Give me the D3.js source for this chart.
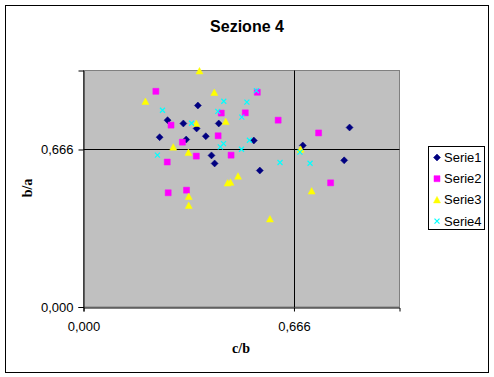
<!DOCTYPE html>
<html>
<head>
<meta charset="utf-8">
<script src="https://cdn.jsdelivr.net/npm/d3@7"></script>
<style>
  body { margin: 0; background: #fff; }
</style>
</head>
<body>
<div id="chart"></div>
<script>
(function(){

  var width = 494;
  var height = 377;

  // values: [c/b, b/a]
  var serie1 = [
    [0.362, 0.852], [0.266, 0.790], [0.316, 0.776], [0.428, 0.776], [0.358, 0.755],
    [0.241, 0.718], [0.325, 0.708], [0.387, 0.722], [0.539, 0.704], [0.405, 0.641],
    [0.415, 0.607], [0.558, 0.577], [0.694, 0.683], [0.842, 0.759], [0.825, 0.620]
  ];
  var serie2 = [
    [0.229, 0.912], [0.550, 0.908], [0.436, 0.820], [0.512, 0.821], [0.616, 0.790],
    [0.277, 0.769], [0.426, 0.724], [0.313, 0.697], [0.357, 0.638], [0.467, 0.642],
    [0.265, 0.613], [0.744, 0.736], [0.326, 0.494], [0.268, 0.483], [0.782, 0.525]
  ];
  var serie3 = [
    [0.367, 0.998], [0.414, 0.907], [0.196, 0.869], [0.357, 0.776], [0.450, 0.784],
    [0.284, 0.676], [0.332, 0.653], [0.687, 0.667], [0.489, 0.553], [0.456, 0.524],
    [0.465, 0.527], [0.333, 0.467], [0.333, 0.429], [0.722, 0.490], [0.590, 0.372]
  ];
  var serie4 = [
    [0.250, 0.832], [0.444, 0.870], [0.517, 0.866], [0.547, 0.915], [0.425, 0.827],
    [0.501, 0.803], [0.342, 0.777], [0.525, 0.705], [0.443, 0.691], [0.433, 0.677],
    [0.500, 0.667], [0.234, 0.642], [0.622, 0.611], [0.685, 0.655], [0.717, 0.608]
  ];

  var seriesNames = ['Serie1', 'Serie2', 'Serie3', 'Serie4'];
  var seriesColors = ['#000080', '#FF00FF', '#FFFF00', '#00FFFF'];
  var tickValues = [0, 0.666];

  var allSeries = [serie1, serie2, serie3, serie4];

  var sans = 'Arial, "Liberation Sans", sans-serif';
  var serif = '"Times New Roman", "Liberation Serif", serif';

  // marker shapes (Excel style)
  var markerPaths = [
    'M0,-3.5L3.5,0L0,3.5L-3.5,0Z',
    'M-3,-3L3,-3L3,3L-3,3Z',
    'M0,-3.5L3.5,3L-3.5,3Z',
    'M-2.5,-2.5L2.5,2.5M2.5,-2.5L-2.5,2.5'
  ];

  var plot = { left: 83.5, top: 70.5, right: 399.5, bottom: 307 };

  var x = d3.scaleLinear().domain([0, 1]).range([plot.left, plot.right]);
  var y = d3.scaleLinear().domain([0, 1]).range([plot.bottom, plot.top]);
  var fmt = function(d){ return d3.format('.3f')(d).replace('.', ','); };

  var svg = d3.select('#chart')
    .append('svg')
    .attr('width', width)
    .attr('height', height);

  // chart border
  svg.append('rect')
    .attr('x', 5.5).attr('y', 5.5)
    .attr('width', 483).attr('height', 367)
    .attr('fill', '#fff')
    .attr('stroke', '#000');

  // title
  svg.append('text')
    .attr('x', 247).attr('y', 32)
    .attr('text-anchor', 'middle')
    .style('font-family', sans)
    .style('font-size', '16px')
    .style('font-weight', 'bold')
    .text('Sezione 4');

  // plot area
  svg.append('rect')
    .attr('x', x(0)).attr('y', y(1))
    .attr('width', x(1) - x(0)).attr('height', y(0) - y(1))
    .attr('fill', '#C0C0C0')
    .attr('stroke', '#808080');

  // gridlines
  svg.append('g').selectAll('line')
    .data(tickValues.filter(function(d){ return d > 0; }))
    .enter().append('line')
    .attr('x1', function(d){ return Math.round(x(d)) + 0.5; })
    .attr('x2', function(d){ return Math.round(x(d)) + 0.5; })
    .attr('y1', y(1)).attr('y2', y(0))
    .attr('stroke', '#000');
  svg.append('g').selectAll('line')
    .data(tickValues.filter(function(d){ return d > 0; }))
    .enter().append('line')
    .attr('y1', function(d){ return Math.round(y(d)) + 0.5; })
    .attr('y2', function(d){ return Math.round(y(d)) + 0.5; })
    .attr('x1', x(0)).attr('x2', x(1))
    .attr('stroke', '#000');

  // axes
  var xAxis = d3.axisBottom(x).tickValues(tickValues).tickFormat(fmt).tickSize(4).tickPadding(8);
  var yAxis = d3.axisLeft(y).tickValues(tickValues).tickFormat(fmt).tickSize(5).tickPadding(5);

  var gx = svg.append('g')
    .attr('transform', 'translate(0,' + (plot.bottom + 0.5) + ')')
    .call(xAxis);
  var gy = svg.append('g')
    .attr('transform', 'translate(' + plot.left + ',0)')
    .call(yAxis);

  [gx, gy].forEach(function(g){
    g.select('.domain').attr('stroke', '#000');
    g.selectAll('.tick line').attr('stroke', '#000');
    g.selectAll('.tick text')
      .style('font-size', '13px')
      .style('font-family', sans)
      .attr('fill', '#000');
  });
  gx.selectAll('.tick text').attr('dy', '0.9em');

  // axis titles
  svg.append('text')
    .attr('x', 241).attr('y', 353)
    .attr('text-anchor', 'middle')
    .style('font-family', serif)
    .style('font-weight', 'bold')
    .style('font-size', '14px')
    .text('c/b');
  svg.append('text')
    .attr('transform', 'translate(32,188) rotate(-90)')
    .attr('text-anchor', 'middle')
    .style('font-family', serif)
    .style('font-weight', 'bold')
    .style('font-size', '14px')
    .text('b/a');

  // points
  allSeries.forEach(function(data, i){
    svg.append('g').selectAll('path')
      .data(data)
      .enter().append('path')
      .attr('d', markerPaths[i])
      .attr('transform', function(d){ return 'translate(' + x(d[0]) + ',' + y(d[1]) + ')'; })
      .attr('fill', i === 3 ? 'none' : seriesColors[i])
      .attr('stroke', seriesColors[i])
      .attr('stroke-width', i === 3 ? 1.2 : 0.5);
  });

  // legend
  var legend = svg.append('g');
  legend.append('rect')
    .attr('x', 428.5).attr('y', 146.5)
    .attr('width', 56).attr('height', 83)
    .attr('fill', '#fff')
    .attr('stroke', '#000');

  var items = legend.selectAll('g.item')
    .data(seriesNames)
    .enter().append('g')
    .attr('class', 'item')
    .attr('transform', function(d, i){ return 'translate(437,' + (157.5 + i * 21.2) + ')'; });

  items.append('path')
    .attr('d', function(d, i){ return markerPaths[i]; })
    .attr('fill', function(d, i){ return i === 3 ? 'none' : seriesColors[i]; })
    .attr('stroke', function(d, i){ return seriesColors[i]; })
    .attr('stroke-width', function(d, i){ return i === 3 ? 1.2 : 0.5; });

  items.append('text')
    .attr('x', 7).attr('y', 0)
    .attr('dy', '0.35em')
    .style('font-family', sans)
    .style('font-size', '13px')
    .text(function(d){ return d; });

})();
</script>
</body>
</html>
